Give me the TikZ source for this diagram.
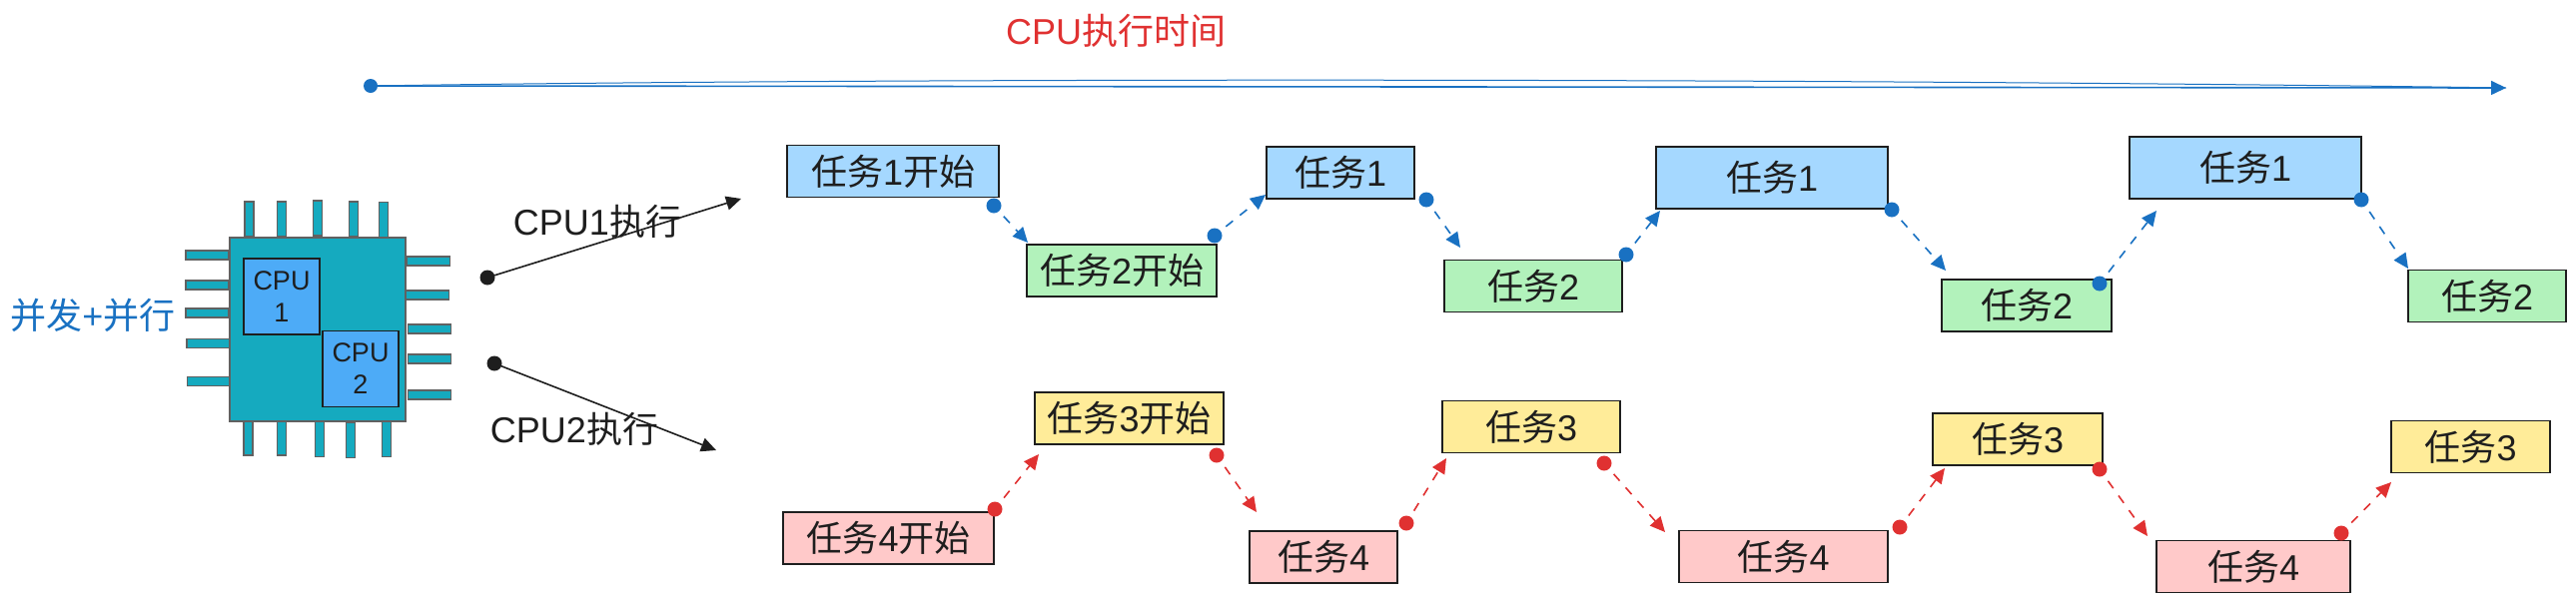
\documentclass[tikz,border=0pt]{standalone}
\usepackage{fontspec}
\usepackage{xcolor}
\usetikzlibrary{arrows.meta}
\setmainfont{Liberation Sans}
\newfontfamily\cjk{Noto Sans CJK SC}
\newcommand{\renwu}{{\cjk 任务}}
\newcommand{\kaishi}{{\cjk 开始}}
\newcommand{\zhixing}{{\cjk 执行}}
\definecolor{inkblack}{HTML}{1E1E1E}
\definecolor{flowblue}{HTML}{1971C2}
\definecolor{flowred}{HTML}{E03131}
\definecolor{chipteal}{HTML}{15AABF}
\definecolor{coreblue}{HTML}{4DABF7}
\definecolor{taskblue}{HTML}{A5D8FF}
\definecolor{taskgreen}{HTML}{B2F2BB}
\definecolor{taskyellow}{HTML}{FFEC99}
\definecolor{taskred}{HTML}{FFC9C9}
\tikzset{
    tnode/.style = {align=center, inner sep=0pt, outer sep=0pt, text=inkblack},
    tlabel/.style = {tnode, font=\fontsize{36}{40}\selectfont},
    task/.style = {tlabel, rectangle, draw=inkblack, line width=1.6pt, minimum height=52pt},
    task1/.style = {task, fill=taskblue},
    task2/.style = {task, fill=taskgreen},
    task3/.style = {task, fill=taskyellow},
    task4/.style = {task, fill=taskred},
    chip/.style = {rectangle, draw=inkblack!70, line width=1.6pt, fill=chipteal, inner sep=0pt, outer sep=0pt},
    pinv/.style = {chip, minimum width=9pt, minimum height=35pt},
    pinh/.style = {chip, minimum width=43pt, minimum height=9pt},
    core/.style = {tnode, rectangle, draw=inkblack, line width=1.2pt, fill=coreblue, minimum width=76pt, minimum height=76pt, font=\fontsize{27}{32}\selectfont},
    dot/.style = {circle, inner sep=0pt, outer sep=0pt, minimum size=15pt, fill=#1},
    flow/.style = {draw=#1, line width=1.6pt, dash pattern=on 9pt off 9pt, shorten <=7pt, -{Triangle[length=15pt,width=14pt,fill=#1]}},
    line/.style = {draw=#1, line width=1.6pt, -{Triangle[length=15pt,width=14pt,fill=#1]}}
}
\begin{document}
\begin{tikzpicture}[x=1pt,y=-1pt]
    \useasboundingbox (0,0) rectangle (2579,603);

    % title and time axis
    \node [tlabel, text=flowred] (title) at (1117,31) {CPU{\cjk 执行时间}};
    \node [dot=flowblue, minimum size=14pt] (dtime) at (371,86) {};
    \coordinate (ttime) at (2509,88);
    \draw [line=flowblue] (dtime) -- (ttime);
    \draw [draw=flowblue, line width=1pt] (dtime) .. controls (900,78) and (1800,78) .. (ttime);

    % chip with its pins
    \node [pinv] (pt1) at (249.5,219.5) {};
    \node [pinv] (pt2) at (282,219.5) {};
    \node [pinv] (pt3) at (318,218.5) {};
    \node [pinv] (pt4) at (354,219.5) {};
    \node [pinv] (pt5) at (384,220) {};
    \node [pinv] (pb1) at (248.5,438.5) {};
    \node [pinv] (pb2) at (282,438.5) {};
    \node [pinv] (pb3) at (320,440) {};
    \node [pinv] (pb4) at (351,441) {};
    \node [pinv] (pb5) at (387,440) {};
    \node [pinh] (pl1) at (207.5,255.5) {};
    \node [pinh] (pl2) at (207.5,285.5) {};
    \node [pinh] (pl3) at (207.5,313.5) {};
    \node [pinh] (pl4) at (208.5,344) {};
    \node [pinh] (pl5) at (209,382) {};
    \node [pinh] (pr1) at (429,261.5) {};
    \node [pinh] (pr2) at (428,295.5) {};
    \node [pinh] (pr3) at (430,329.5) {};
    \node [pinh] (pr4) at (430,359.5) {};
    \node [pinh] (pr5) at (430,395.5) {};
    \node [chip, minimum width=176pt, minimum height=184pt] (cpu) at (318,330) {};
    \node [core] (cpu1) at (282,297) {CPU\\1};
    \node [core] (cpu2) at (361,369.5) {CPU\\2};
    \node [tlabel, text=flowblue] (mode) at (93,316) {{\cjk 并发}+{\cjk 并行}};

    % which cpu runs which row
    \node [dot=inkblack] (d1) at (488,278) {};
    \coordinate (t1) at (742,199);
    \node [dot=inkblack] (d2) at (495,364) {};
    \coordinate (t2) at (717,451);
    \draw [line=inkblack] (d1) -- (t1);
    \draw [line=inkblack] (d2) -- (t2);
    \node [tlabel] (run1) at (598,222) {CPU1\zhixing};
    \node [tlabel] (run2) at (575,430) {CPU2\zhixing};

    % first row
    \node [task1, minimum width=212pt] (a1) at (894,171.5) {\renwu1\kaishi};
    \node [task2, minimum width=190pt] (a2) at (1123,271) {\renwu2\kaishi};
    \node [task1, minimum width=148pt] (a3) at (1342,173) {\renwu1};
    \node [task2, minimum width=178pt] (a4) at (1535,286.5) {\renwu2};
    \node [task1, minimum width=232pt, minimum height=62pt] (a5) at (1774,178) {\renwu1};
    \node [task2, minimum width=170pt] (a6) at (2029,306) {\renwu2};
    \node [task1, minimum width=232pt, minimum height=62pt] (a7) at (2248,168) {\renwu1};
    \node [task2, minimum width=158pt] (a8) at (2490,296.5) {\renwu2};

    % second row
    \node [task4, minimum width=211pt] (b1) at (889.5,539) {\renwu4\kaishi};
    \node [task3, minimum width=189pt] (b2) at (1130.5,419) {\renwu3\kaishi};
    \node [task4, minimum width=148pt] (b3) at (1325,558) {\renwu4};
    \node [task3, minimum width=178pt] (b4) at (1533,427.5) {\renwu3};
    \node [task4, minimum width=209pt] (b5) at (1785.5,557.5) {\renwu4};
    \node [task3, minimum width=170pt] (b6) at (2020,440) {\renwu3};
    \node [task4, minimum width=194pt] (b7) at (2256,567.5) {\renwu4};
    \node [task3, minimum width=159pt] (b8) at (2473.5,447.5) {\renwu3};

    % blue hand-overs
    \node [dot=flowblue] (da1) at (995,206) {};
    \node [dot=flowblue] (da2) at (1216,236) {};
    \node [dot=flowblue] (da3) at (1428,200) {};
    \node [dot=flowblue] (da4) at (1628,255) {};
    \node [dot=flowblue] (da5) at (1894,210) {};
    \node [dot=flowblue] (da6) at (2102,284) {};
    \node [dot=flowblue] (da7) at (2364,200) {};
    \coordinate (ta1) at (1029,243);
    \coordinate (ta2) at (1267,195);
    \coordinate (ta3) at (1462,248);
    \coordinate (ta4) at (1662,211);
    \coordinate (ta5) at (1948,271);
    \coordinate (ta6) at (2159,211);
    \coordinate (ta7) at (2411,269);
    \foreach \i in {1,...,7}
        \draw [flow=flowblue] (da\i) -- (ta\i);

    % red hand-overs
    \node [dot=flowred] (db1) at (996,510) {};
    \node [dot=flowred] (db2) at (1218,456) {};
    \node [dot=flowred] (db3) at (1408,524) {};
    \node [dot=flowred] (db4) at (1606,464) {};
    \node [dot=flowred] (db5) at (1902,528) {};
    \node [dot=flowred] (db6) at (2102,470) {};
    \node [dot=flowred] (db7) at (2344,534) {};
    \coordinate (tb1) at (1040,455);
    \coordinate (tb2) at (1258,513);
    \coordinate (tb3) at (1448,459);
    \coordinate (tb4) at (1667,533);
    \coordinate (tb5) at (1947,469);
    \coordinate (tb6) at (2150,537);
    \coordinate (tb7) at (2394,483);
    \foreach \i in {1,...,7}
        \draw [flow=flowred] (db\i) -- (tb\i);
\end{tikzpicture}
\end{document}
